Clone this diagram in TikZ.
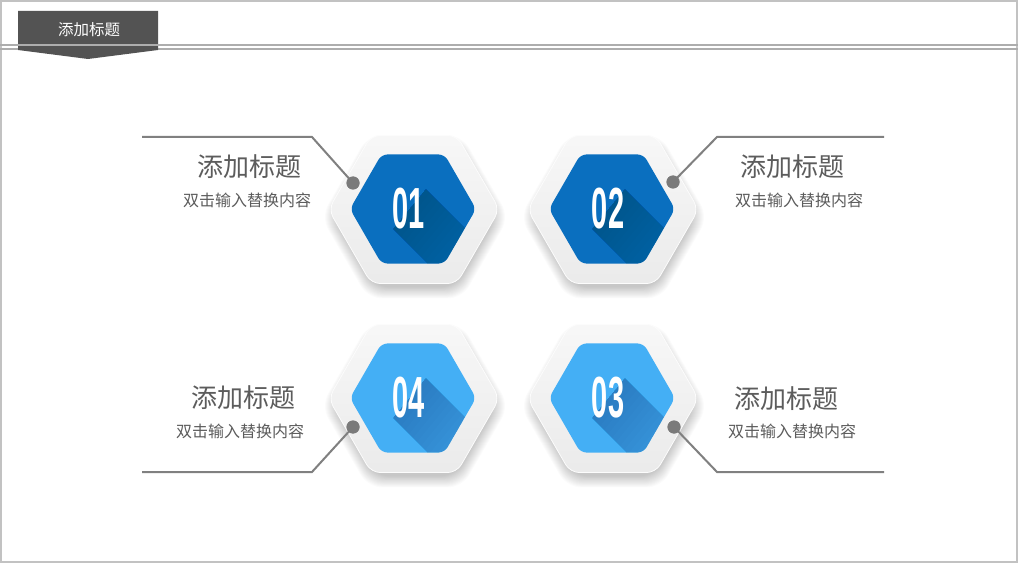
\documentclass[tikz,border=0pt]{standalone}
\usepackage{fontspec}
\setmainfont{Liberation Sans}
\newfontfamily\cjk{Noto Sans CJK SC}
\newfontfamily\numfont{Liberation Sans}
\usetikzlibrary{shapes.geometric}
\definecolor{blueD}{HTML}{0A6FBF}
\definecolor{blueL}{HTML}{44AFF5}
\definecolor{linec}{HTML}{808080}
\definecolor{dotcol}{HTML}{7A7A7A}
\definecolor{txtc}{HTML}{5C5C5C}
\definecolor{tabc}{HTML}{535353}
\definecolor{rulec}{HTML}{ADADAD}
\definecolor{framec}{HTML}{C2C2C2}
\begin{document}
\begin{tikzpicture}[x=1pt,y=-1pt,
  hexbase/.style={regular polygon, regular polygon sides=6, inner sep=0pt},
  outerhex/.style={hexbase, minimum size=171pt, rounded corners=9pt, top color=black!3, bottom color=black!8, draw=white!70!black!4, line width=0.8pt},
  shadowhex/.style={hexbase, rounded corners=14pt, fill=black, opacity=0.016},
  innerhex/.style={hexbase, minimum size=126pt, rounded corners=6pt},
  conn/.style={draw=linec, line width=2pt},
  dotc/.style={circle, fill=dotcol, inner sep=0pt, minimum size=13pt},
  ttl/.style={font=\cjk\fontsize{26}{30}\selectfont, text=txtc, inner sep=0pt},
  sub/.style={font=\cjk\fontsize{16}{19}\selectfont, text=txtc, inner sep=0pt},
  num/.style={font=\numfont\bfseries\fontsize{58}{60}\selectfont, text=white, inner sep=0pt},
  rule/.style={draw=rulec, line width=1.5pt}
]
\useasboundingbox (0,0) rectangle (1021,567);
\fill[white] (0,0) rectangle (1021,567);
\draw[draw=framec, line width=2pt] (1,1) rectangle (1017,562);

% header
\draw[rule] (0,49) -- (1018,49);
\fill[tabc] (18,11) -- (158,11) -- (158,50) -- (88,59) -- (18,50) -- cycle;
\draw[rule] (0,45) -- (1018,45);
\node[font=\cjk\fontsize{15.5}{18}\selectfont, text=white, inner sep=0pt] (hdr) at (89,30) {添加标题};

% hexagons
\foreach \cx/\cy/\col/\nn/\nm in {413/209/blueD/01/1, 612/209/blueD/02/2, 413/398/blueL/04/4, 612/398/blueL/03/3}{
  \foreach \i in {0,...,13}
    \node[shadowhex, minimum size={162pt+\i*2pt}] at (\cx+2,\cy+8) {};
  \node[outerhex] (o\nm) at (\cx+1,\cy+0.5) {};
  \node[innerhex, fill=\col] (i\nm) at (\cx,\cy) {};
  \begin{scope}
    \clip[rounded corners=6pt] (\cx+63,\cy) -- (\cx+31.5,\cy+54.56) -- (\cx-31.5,\cy+54.56)
      -- (\cx-63,\cy) -- (\cx-31.5,\cy-54.56) -- (\cx+31.5,\cy-54.56) -- cycle;
    \foreach \L in {4,8,...,100}
      \fill[black, opacity=0.009] (\cx+13,\cy-20) -- (\cx+13+\L,\cy-20+\L)
        -- (\cx-20+\L,\cy+20+\L) -- (\cx-20,\cy+20) -- cycle;
  \end{scope}
  \node[num] (n\nm) at (\cx-4,\cy) {\scalebox{0.5}[1]{\nn}};
}

% connectors
\coordinate (b1) at (312,137); \coordinate (e1) at (142,137);
\coordinate (b2) at (717,137); \coordinate (e2) at (884,137);
\coordinate (b4) at (312,472); \coordinate (e4) at (142,472);
\coordinate (b3) at (717,472); \coordinate (e3) at (884,472);
\node[dotc] (d1) at (353,183) {};
\node[dotc] (d2) at (673,182) {};
\node[dotc] (d4) at (353,427) {};
\node[dotc] (d3) at (674,427) {};
\draw[conn] (d1.center) -- (b1) -- (e1);
\draw[conn] (d2.center) -- (b2) -- (e2);
\draw[conn] (d4.center) -- (b4) -- (e4);
\draw[conn] (d3.center) -- (b3) -- (e3);
\node[dotc] at (d1) {};
\node[dotc] at (d2) {};
\node[dotc] at (d4) {};
\node[dotc] at (d3) {};

% texts
\node[ttl] (t1) at (249,167) {添加标题};
\node[sub] (s1) at (247,200) {双击输入替换内容};
\node[ttl] (t2) at (792,167) {添加标题};
\node[sub] (s2) at (799,200) {双击输入替换内容};
\node[ttl] (t4) at (243,398) {添加标题};
\node[sub] (s4) at (240,431) {双击输入替换内容};
\node[ttl] (t3) at (786,399) {添加标题};
\node[sub] (s3) at (792,431) {双击输入替换内容};
\end{tikzpicture}
\end{document}
